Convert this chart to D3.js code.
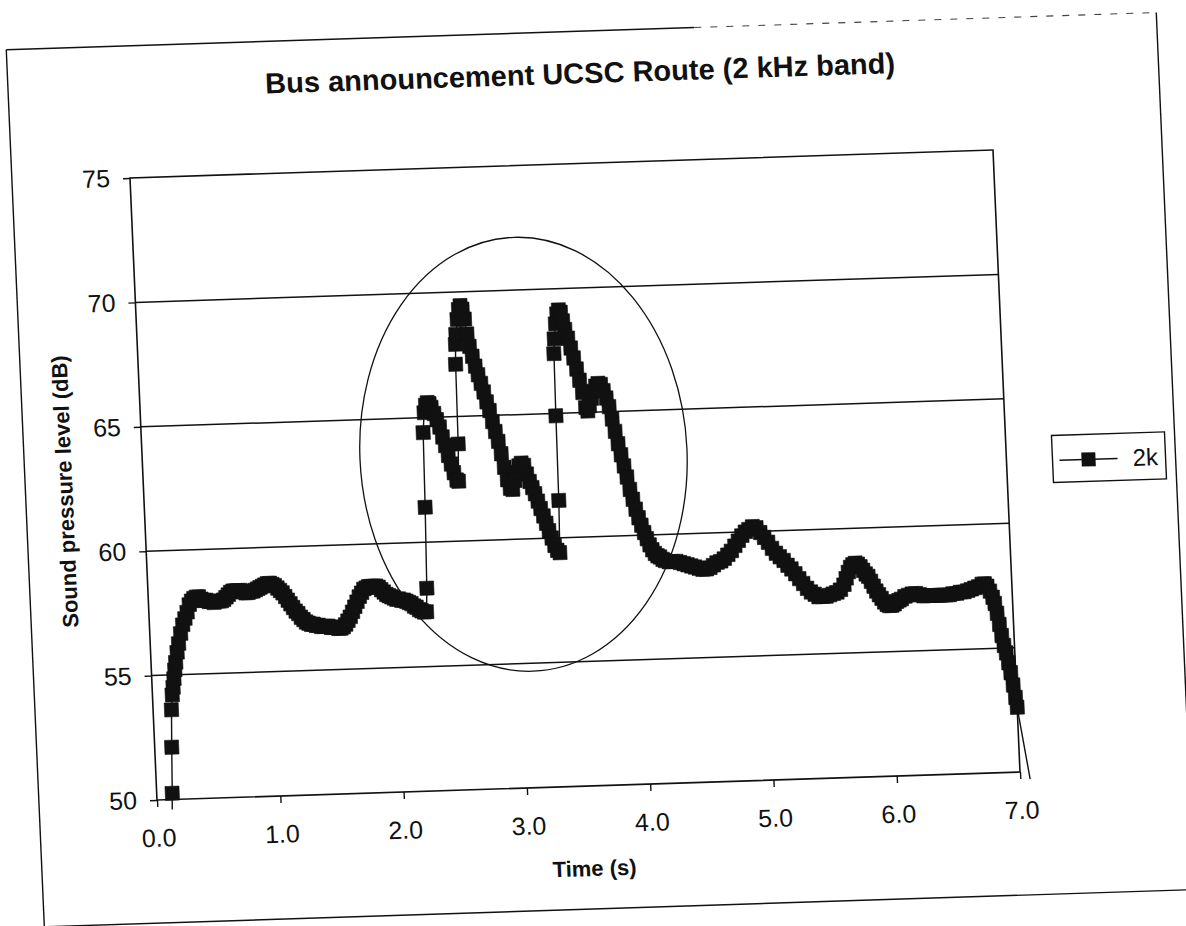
<!DOCTYPE html>
<html><head><meta charset="utf-8">
<script src="https://cdn.jsdelivr.net/npm/d3@7"></script>
<style>
body{margin:0;background:#fff}
text{font-family:"Liberation Sans",Arial,sans-serif;fill:#111}
</style>
</head><body>
<svg id="chart" width="1186" height="926"></svg>
<script>
const chartTitle = "Bus announcement UCSC Route (2 kHz band)";
const xTitle = "Time (s)";
const yTitle = "Sound pressure level (dB)";
const seriesName = "2k";
const xTicks = [0,1,2,3,4,5,6,7];
const yTicks = [50,55,60,65,70,75];
const gridValues = [55,60,65,70];

const times = [0.12,0.126,0.138,0.149,0.16,0.17,0.18,0.19,0.2,0.215,0.23,0.25,0.27,0.29,0.31,0.33,0.35,0.37,0.39,0.41,0.43,0.45,0.47,0.49,0.51,0.53,0.55,0.57,0.59,0.61,0.63,0.65,0.67,0.69,0.71,0.73,0.75,0.77,0.79,0.81,0.83,0.85,0.87,0.89,0.91,0.93,0.95,0.97,0.99,1.01,1.03,1.05,1.07,1.09,1.11,1.13,1.15,1.17,1.19,1.21,1.23,1.25,1.27,1.29,1.31,1.33,1.35,1.37,1.39,1.41,1.43,1.45,1.47,1.49,1.51,1.53,1.55,1.57,1.59,1.61,1.63,1.65,1.67,1.69,1.71,1.73,1.75,1.77,1.79,1.81,1.83,1.85,1.87,1.89,1.91,1.93,1.95,1.97,1.99,2.01,2.03,2.05,2.07,2.09,2.11,2.13,2.15,2.17,2.19,2.21,2.23,2.25,2.26,2.275,2.285,2.3,2.315,2.33,2.345,2.36,2.38,2.4,2.42,2.44,2.46,2.48,2.5,2.52,2.54,2.555,2.565,2.572,2.578,2.585,2.6,2.615,2.63,2.645,2.66,2.675,2.69,2.71,2.73,2.75,2.77,2.79,2.81,2.83,2.85,2.87,2.89,2.91,2.93,2.95,2.97,2.99,3.01,3.03,3.05,3.07,3.09,3.11,3.13,3.15,3.17,3.19,3.21,3.23,3.25,3.27,3.29,3.31,3.33,3.35,3.36,3.366,3.372,3.38,3.395,3.41,3.425,3.44,3.455,3.47,3.49,3.51,3.53,3.55,3.57,3.59,3.61,3.625,3.64,3.66,3.68,3.7,3.72,3.74,3.76,3.78,3.8,3.82,3.84,3.86,3.88,3.9,3.92,3.94,3.96,3.98,4.0,4.02,4.04,4.06,4.08,4.1,4.12,4.14,4.16,4.18,4.2,4.23,4.26,4.29,4.32,4.35,4.38,4.41,4.44,4.47,4.5,4.53,4.56,4.59,4.62,4.65,4.68,4.71,4.74,4.77,4.8,4.83,4.86,4.89,4.92,4.95,4.98,5.01,5.04,5.07,5.1,5.13,5.16,5.19,5.22,5.25,5.28,5.31,5.34,5.37,5.4,5.43,5.46,5.49,5.52,5.55,5.58,5.61,5.64,5.66,5.68,5.7,5.72,5.74,5.76,5.78,5.8,5.82,5.84,5.86,5.88,5.9,5.92,5.94,5.96,5.98,6.0,6.02,6.04,6.06,6.08,6.1,6.13,6.16,6.19,6.22,6.25,6.28,6.31,6.34,6.37,6.4,6.43,6.46,6.49,6.52,6.55,6.58,6.61,6.64,6.67,6.7,6.73,6.76,6.78,6.8,6.82,6.84,6.855,6.87,6.885,6.9,6.915,6.93,6.945,6.96,6.975,6.99,7.0,7.08];

const spl = [49.6,50.25,52.1,53.6,54.2,54.5,54.85,55.2,55.5,55.9,56.25,56.65,57.0,57.25,57.5,57.8,57.95,58.05,58.1,58.1,58.0,57.95,57.95,57.9,57.9,57.85,57.9,57.9,57.9,57.95,58.05,58.15,58.25,58.3,58.3,58.3,58.3,58.25,58.2,58.2,58.25,58.25,58.3,58.35,58.4,58.45,58.5,58.55,58.55,58.5,58.45,58.35,58.25,58.15,58.0,57.85,57.7,57.55,57.4,57.3,57.15,57.05,56.95,56.9,56.85,56.85,56.8,56.8,56.75,56.75,56.75,56.75,56.7,56.7,56.7,56.65,56.65,56.7,56.8,56.95,57.1,57.3,57.5,57.7,57.9,58.05,58.2,58.25,58.3,58.3,58.3,58.3,58.25,58.15,58.05,57.95,57.9,57.85,57.8,57.75,57.75,57.7,57.7,57.65,57.6,57.55,57.45,57.4,57.3,57.25,57.2,57.2,58.15,61.4,64.4,65.2,65.5,65.6,65.55,65.4,65.15,64.9,64.6,64.2,63.85,63.45,63.1,62.75,62.45,62.4,63.9,67.1,67.9,68.3,68.9,69.3,69.45,69.3,68.9,68.3,67.8,67.4,67.0,66.65,66.3,65.95,65.55,65.2,64.75,64.35,63.95,63.45,62.9,62.4,62.05,62.0,62.35,62.7,62.95,63.05,62.95,62.6,62.3,62.05,61.8,61.5,61.2,60.9,60.6,60.3,60.0,59.7,59.5,59.4,61.5,64.9,67.4,68.0,68.6,69.0,69.15,69.05,68.7,68.35,68.0,67.6,67.2,66.75,66.3,65.8,65.2,65.05,65.25,65.55,65.85,66.05,66.15,66.1,65.85,65.55,65.2,64.7,64.2,63.7,63.25,62.8,62.35,61.85,61.45,61.05,60.7,60.4,60.1,59.85,59.6,59.4,59.25,59.15,59.1,59.0,58.95,58.9,58.9,58.9,58.85,58.8,58.75,58.7,58.65,58.6,58.55,58.55,58.6,58.7,58.8,58.85,58.95,59.1,59.25,59.45,59.65,59.85,60.0,60.1,60.2,60.15,59.95,59.75,59.55,59.3,59.1,58.95,58.8,58.6,58.45,58.25,58.05,57.85,57.65,57.5,57.4,57.3,57.3,57.3,57.35,57.4,57.45,57.55,57.75,58.0,58.25,58.45,58.55,58.6,58.55,58.45,58.3,58.15,58.05,57.85,57.65,57.45,57.3,57.15,57.0,56.9,56.85,56.85,56.9,57.0,57.05,57.1,57.2,57.25,57.3,57.3,57.25,57.2,57.2,57.2,57.2,57.2,57.2,57.2,57.2,57.25,57.25,57.3,57.3,57.35,57.4,57.45,57.5,57.6,57.6,57.5,57.3,57.05,56.8,56.4,55.95,55.5,55.1,54.8,54.4,54.0,53.5,53.0,52.6,49.7];

// highlight ellipse drawn around the peaks: centre time, centre level, half-width (s), half-height (dB)
const ellipseCentre = [3.09, 63.4];
const ellipseRadii = [1.326, 8.72];

const svg = d3.select("#chart");
svg.append("rect").attr("width",1186).attr("height",926).attr("fill","#fff");
// the scanned page is slightly rotated/sheared
const g = svg.append("g").attr("transform","matrix(1,-0.0324,0.0434,1,-7.73,4.21)");

const L=130,R=993,T=178,B=800;
const x = d3.scaleLinear().domain([0,7]).range([L,R]);
const y = d3.scaleLinear().domain([50,75]).range([B,T]);
const ink = "#111";

// outer chart frame (top edge fades into dashes on the right in the scan)
const fl=12, fr=1162, ft=46, fb=923;
g.append("line").attr("x1",fl).attr("x2",700).attr("y1",ft).attr("y2",ft).attr("stroke",ink).attr("stroke-width",1.4);
g.append("line").attr("x1",700).attr("x2",fr).attr("y1",ft).attr("y2",ft).attr("stroke","#444").attr("stroke-width",1.1).attr("stroke-dasharray","7,9");
g.append("line").attr("x1",fl).attr("x2",fl).attr("y1",ft).attr("y2",fb).attr("stroke",ink).attr("stroke-width",1.4);
g.append("line").attr("x1",fr).attr("x2",fr).attr("y1",ft).attr("y2",fb).attr("stroke",ink).attr("stroke-width",1.4);
g.append("line").attr("x1",fl).attr("x2",fr).attr("y1",fb).attr("y2",fb).attr("stroke",ink).attr("stroke-width",1.4);

// title
g.append("text").attr("x",584).attr("y",98).attr("text-anchor","middle")
  .attr("font-size",29).attr("font-weight","bold").text(chartTitle);

// gridlines
g.append("g").selectAll("line").data(gridValues).join("line")
  .attr("x1",L).attr("x2",R).attr("y1",d=>y(d)).attr("y2",d=>y(d))
  .attr("stroke",ink).attr("stroke-width",1.5);

// plot border
g.append("rect").attr("x",L).attr("y",T).attr("width",R-L).attr("height",B-T)
  .attr("fill","none").attr("stroke",ink).attr("stroke-width",1.6);

// axes
const yAxis = g.append("g").attr("transform",`translate(${L},0)`)
  .call(d3.axisLeft(y).tickValues(yTicks).tickFormat(d3.format("d")).tickSize(7).tickSizeOuter(0).tickPadding(13));
const xAxis = g.append("g").attr("transform",`translate(0,${B})`)
  .call(d3.axisBottom(x).tickValues(xTicks).tickFormat(d3.format(".1f")).tickSize(7).tickSizeOuter(0).tickPadding(22));
[yAxis,xAxis].forEach(a=>{
  a.select(".domain").remove();
  a.selectAll(".tick line").attr("stroke",ink).attr("stroke-width",1.4);
  a.selectAll(".tick text").attr("font-size",25).attr("fill",ink)
    .style("font-family",'"Liberation Sans",Arial,sans-serif');
});

// axis titles
g.append("text").attr("x",564).attr("y",890).attr("text-anchor","middle")
  .attr("font-size",22).attr("font-weight","bold").text(xTitle);
g.append("text").attr("transform","translate(59,489) rotate(-90)").attr("text-anchor","middle")
  .attr("font-size",22).attr("font-weight","bold").text(yTitle);

// data
const pts = times.map((t,i)=>({t, v:spl[i]}));
g.append("path").datum(pts)
  .attr("d", d3.line().x(d=>x(d.t)).y(d=>y(d.v)))
  .attr("fill","none").attr("stroke",ink).attr("stroke-width",1.4);
const ms = 14;
g.append("g").selectAll("rect").data(pts.filter(d=>d.t>=0&&d.t<=7&&d.v>=50&&d.v<=75)).join("rect")
  .attr("x",d=>x(d.t)-ms/2).attr("y",d=>y(d.v)-ms/2).attr("width",ms).attr("height",ms)
  .attr("fill",ink).attr("stroke",ink).attr("stroke-width",0.6);

// highlight ellipse
g.append("ellipse")
  .attr("cx",x(ellipseCentre[0])).attr("cy",y(ellipseCentre[1]))
  .attr("rx",x(ellipseRadii[0])-x(0)).attr("ry",y(50)-y(50+ellipseRadii[1]))
  .attr("fill","none").attr("stroke",ink).attr("stroke-width",1.3);

// legend
const lg = g.append("g");
lg.append("rect").attr("x",1039).attr("y",465).attr("width",113).attr("height",47)
  .attr("fill","#fff").attr("stroke",ink).attr("stroke-width",1.4);
lg.append("line").attr("x1",1046).attr("x2",1104).attr("y1",490).attr("y2",490)
  .attr("stroke",ink).attr("stroke-width",1.4);
lg.append("rect").attr("x",1075-ms/2).attr("y",490-ms/2).attr("width",ms).attr("height",ms).attr("fill",ink);
lg.append("text").attr("x",1119).attr("y",498).attr("font-size",24).text(seriesName);
</script>
</body></html>
